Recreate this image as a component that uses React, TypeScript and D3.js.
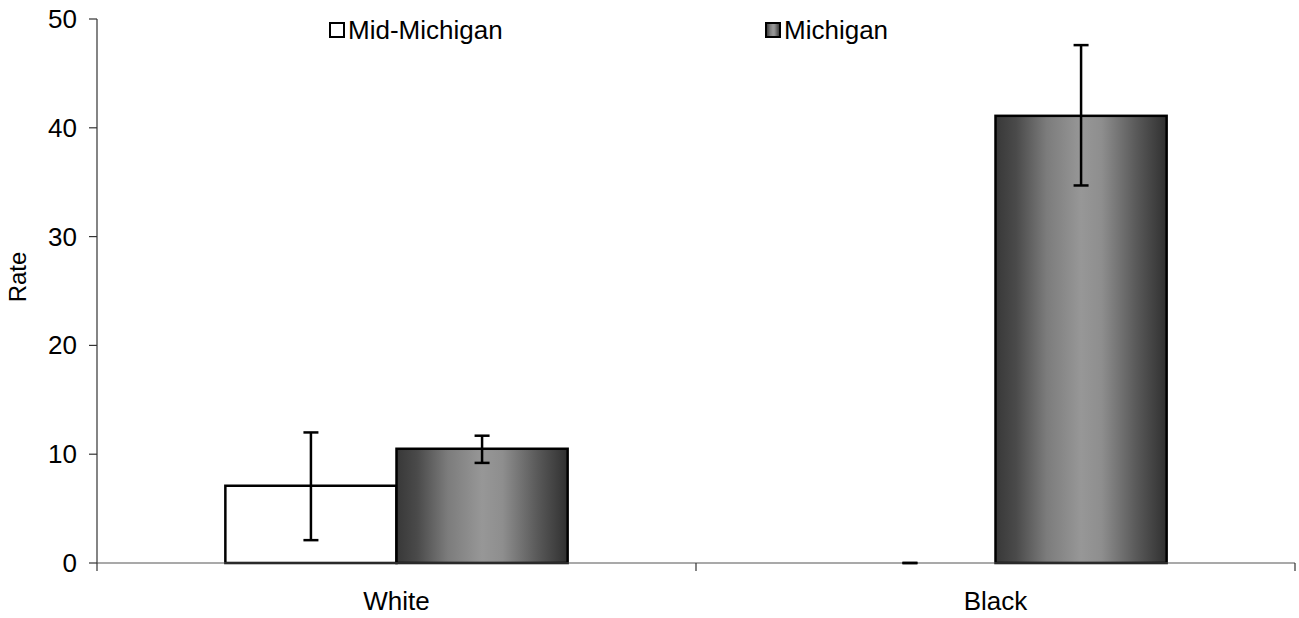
import React from "react";
import * as d3 from "d3";

const categories = ["White", "Black"];
const seriesNames = ["Mid-Michigan", "Michigan"];
const midMichiganValues = [7.1, 0];
const midMichiganLow = [2.1, 0];
const midMichiganHigh = [12.0, 0];
const michiganValues = [10.5, 41.1];
const michiganLow = [9.2, 34.7];
const michiganHigh = [11.7, 47.6];
const yTicks = [0, 10, 20, 30, 40, 50];

const W = 1299;
const H = 618;
const m = { left: 97, right: 1295, top: 19, bottom: 563 };
const FONT = "Liberation Sans, Arial, sans-serif";
const FS = 26;

export default function App() {
  const x0 = d3.scaleBand<string>().domain(categories).range([m.left, m.right]).paddingInner(0).paddingOuter(0);
  const bw = x0.bandwidth();
  // gap width 150% of bar width: band = 2*bar + 1.5*bar
  const barW = bw / 3.5;
  const x1 = d3.scaleBand<string>().domain(seriesNames).range([0, barW * 2]);
  const y = d3.scaleLinear().domain([0, 50]).range([m.bottom, m.top]);

  const series = [
    { name: seriesNames[0], vals: midMichiganValues, lo: midMichiganLow, hi: midMichiganHigh, fill: "#ffffff" },
    { name: seriesNames[1], vals: michiganValues, lo: michiganLow, hi: michiganHigh, fill: "url(#grad)" },
  ];

  const xTickPositions = [...categories.map((c) => x0(c)!), m.right];

  return (
    <svg width={W} height={H} style={{ position: "absolute", left: 0, top: 0, background: "#fff" }}>
      <defs>
        <linearGradient id="grad" x1="0" x2="1" y1="0" y2="0">
          <stop offset="0%" stopColor="#383838" />
          <stop offset="12%" stopColor="#4a4a4a" />
          <stop offset="30%" stopColor="#7c7c7c" />
          <stop offset="50%" stopColor="#979797" />
          <stop offset="62%" stopColor="#8e8e8e" />
          <stop offset="82%" stopColor="#5a5a5a" />
          <stop offset="100%" stopColor="#303030" />
        </linearGradient>
      </defs>

      {/* bars */}
      {categories.map((c, ci) =>
        series.map((s) => {
          const bx = x0(c)! + (bw - barW * 2) / 2 + x1(s.name)!;
          const v = s.vals[ci];
          return v > 0 ? (
            <rect key={c + s.name} x={bx} y={y(v)} width={barW} height={y(0) - y(v)} fill={s.fill} stroke="#000" strokeWidth={2.5} />
          ) : null;
        })
      )}

      {/* axes */}
      <line x1={m.left} x2={m.left} y1={m.top} y2={m.bottom} stroke="#333" strokeWidth={1.2} />
      <line x1={m.left} x2={m.right} y1={m.bottom} y2={m.bottom} stroke="#555" strokeWidth={1.2} />
      {yTicks.map((t) => (
        <g key={t}>
          <line x1={m.left - 8} x2={m.left} y1={y(t)} y2={y(t)} stroke="#333" strokeWidth={1.2} />
          <text x={m.left - 20} y={y(t)} textAnchor="end" dominantBaseline="central" fontFamily={FONT} fontSize={FS} fill="#000">
            {t}
          </text>
        </g>
      ))}
      {xTickPositions.map((p, i) => (
        <line key={i} x1={p} x2={p} y1={m.bottom} y2={m.bottom + 8} stroke="#333" strokeWidth={1.2} />
      ))}
      {categories.map((c) => (
        <text key={c} x={x0(c)! + bw / 2} y={601} textAnchor="middle" dominantBaseline="central" fontFamily={FONT} fontSize={FS} fill="#000">
          {c}
        </text>
      ))}
      <text transform={`translate(17,277) rotate(-90)`} textAnchor="middle" dominantBaseline="central" fontFamily={FONT} fontSize={24} fill="#000">
        Rate
      </text>

      {/* error bars */}
      {categories.map((c, ci) =>
        series.map((s) => {
          const cx = x0(c)! + (bw - barW * 2) / 2 + x1(s.name)! + barW / 2;
          return (
            <g key={"e" + c + s.name} stroke="#000" strokeWidth={2.5}>
              <line x1={cx} x2={cx} y1={y(s.lo[ci])} y2={y(s.hi[ci])} />
              <line x1={cx - 7.5} x2={cx + 7.5} y1={y(s.lo[ci])} y2={y(s.lo[ci])} />
              <line x1={cx - 7.5} x2={cx + 7.5} y1={y(s.hi[ci])} y2={y(s.hi[ci])} />
            </g>
          );
        })
      )}

      {/* legend */}
      {series.map((s, i) => {
        const lx = i === 0 ? 330 : 766;
        return (
          <g key={"l" + s.name}>
            <rect x={lx} y={23} width={14} height={14} fill={s.fill} stroke="#000" strokeWidth={2} />
            <text x={lx + 18} y={30} dominantBaseline="central" fontFamily={FONT} fontSize={FS} fill="#000">
              {s.name}
            </text>
          </g>
        );
      })}
    </svg>
  );
}
